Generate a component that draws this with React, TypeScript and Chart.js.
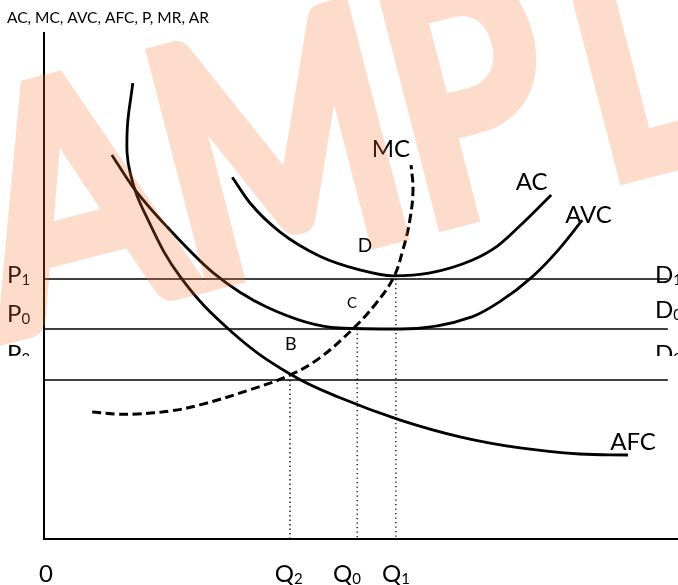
import { useEffect, useRef } from 'react';
import { Chart, registerables } from 'chart.js';
Chart.register(...registerables);

// ---- data (x: quantity units 0..100, y: cost/price units 0..100) ----
const yTitle = 'AC, MC, AVC, AFC, P, MR, AR';

const afcX = [14.0, 13.1, 13.6, 16.2, 21.5, 29.8, 38.8, 46.7, 56.2, 65.6, 75.1, 84.5, 92.1];
const afcY = [90.1, 80.2, 72.3, 63.6, 51.8, 40.7, 32.6, 27.9, 23.5, 20.2, 18.0, 16.8, 16.6];

const avcX = [10.7, 14.0, 19.4, 26.7, 35.2, 46.5, 56.2, 67.5, 71.9, 77.0, 81.1, 84.9];
const avcY = [75.9, 69.6, 61.7, 52.6, 45.8, 41.7, 41.5, 43.9, 46.9, 51.8, 57.1, 63.0];

const acX = [29.7, 32.5, 37.2, 43.5, 49.8, 55.1, 60.9, 67.5, 71.5, 74.9, 80.0];
const acY = [71.5, 66.4, 60.7, 55.9, 53.2, 52.0, 52.6, 55.1, 57.9, 61.7, 68.0];

const mcX = [7.6, 11.2, 14.7, 19.9, 24.6, 32.5, 38.8, 43.5, 48.7, 52.2, 55.1, 56.6, 57.7, 58.2, 57.9];
const mcY = [25.1, 24.7, 24.7, 25.3, 26.5, 29.5, 32.4, 35.8, 41.5, 46.3, 51.6, 57.1, 63.0, 69.0, 73.9];

// price levels P1, P0, P2 and quantities Q1, Q0, Q2
const priceSubs = ['1', '0', '2'];
const prices = [51.4, 41.5, 31.4];
const priceLabelY = [50.6, 42.9, 35.0];
const demandLabelY = [50.6, 43.7, 35.0];
const lineEndX = 98.4;

const qtySubs = ['1', '0', '2'];
const qtys = [55.5, 49.4, 38.8];
const qtyLabelX = [53.3, 45.6, 36.4];
const qtyLabelY = -8.5;

const curveLabels = ['MC', 'AC', 'AVC', 'AFC'];
const curveLabelX = [51.7, 74.4, 82.2, 89.3];
const curveLabelY = [75.5, 69.0, 62.5, 17.6];

const pointLabels = ['D', 'C', 'B'];
const pointLabelX = [49.5, 47.8, 38.0];
const pointLabelY = [56.7, 45.7, 37.4];
const pointLabelSize = [19, 15, 18];

// watermark letters, ink-left offsets along the tilted baseline (A: centre), widths
const wmLetters = ['A', 'M', 'P', 'L'];
const wmInkLeft = [-343, -239, 0, 187];
const wmScale = [0.9, 0.8, 0.8, 0.8];
const wmLead = 'S';
const wmTail = 'E';

const FONT = 'Lato, "Open Sans", sans-serif';

const zip = (xs: number[], ys: number[]) => xs.map((x, i) => ({ x, y: ys[i] }));

function drawSub(ctx: CanvasRenderingContext2D, main: string, sub: string, x: number, y: number, size: number, subSize: number) {
  ctx.font = `${size}px ${FONT}`;
  ctx.fillText(main, x, y);
  const w = ctx.measureText(main).width;
  ctx.font = `${subSize}px ${FONT}`;
  ctx.fillText(sub, x + w, y + 2);
}

function drawWatermark(ctx: CanvasRenderingContext2D, w: number, h: number) {
  const off = document.createElement('canvas');
  off.width = w;
  off.height = h;
  const o = off.getContext('2d')!;
  const lw = 22;
  o.translate(436, 233);
  o.rotate((-14.5 * Math.PI) / 180);
  o.translate(0, -lw / 2);
  o.font = `320px ${FONT}`;
  o.fillStyle = 'rgb(245,115,55)';
  o.strokeStyle = 'rgb(245,115,55)';
  o.lineWidth = lw;
  o.lineJoin = 'miter';
  o.textBaseline = 'alphabetic';
  const put = (ch: string, u: number, kx: number) => {
    o.save();
    o.translate(u, 0);
    o.scale(kx, 1);
    o.fillText(ch, 0, 0);
    o.strokeText(ch, 0, 0);
    o.restore();
  };
  const origins: number[] = wmLetters.map((ch, i) => {
    const m = o.measureText(ch);
    const kx = wmScale[i];
    if (i === 0) return wmInkLeft[i] - (kx * m.width) / 2;
    return wmInkLeft[i] + (lw * kx) / 2 + m.actualBoundingBoxLeft * kx;
  });
  wmLetters.forEach((ch, i) => put(ch, origins[i], wmScale[i]));
  put(wmLead, origins[0] - o.measureText(wmLead).width * 0.8, 0.8);
  put(wmTail, origins[3] + o.measureText('L').width * 0.8, 0.8);
  ctx.save();
  ctx.globalAlpha = 0.25;
  ctx.drawImage(off, 0, 0);
  ctx.restore();
}

const annot = {
  id: 'annot',
  afterDraw(chart: any) {
    const { ctx, scales } = chart;
    const xs = scales.x;
    const ys = scales.y;
    const px = (v: number) => xs.getPixelForValue(v);
    const py = (v: number) => ys.getPixelForValue(v);
    ctx.save();
    ctx.fillStyle = '#000';
    ctx.textBaseline = 'alphabetic';
    ctx.textAlign = 'left';

    ctx.font = `15.5px ${FONT}`;
    ctx.fillText(yTitle, 7, 23);

    curveLabels.forEach((t, i) => {
      ctx.font = `24px ${FONT}`;
      ctx.fillText(t, px(curveLabelX[i]), py(curveLabelY[i]));
    });
    pointLabels.forEach((t, i) => {
      ctx.font = `${pointLabelSize[i]}px ${FONT}`;
      ctx.fillText(t, px(pointLabelX[i]), py(pointLabelY[i]));
    });

    priceSubs.forEach((s, i) => {
      ctx.save();
      if (i === 2) {
        ctx.beginPath();
        ctx.rect(0, 0, chart.width, py(priceLabelY[i]) - 6);
        ctx.clip();
      }
      drawSub(ctx, 'P', s, 7, py(priceLabelY[i]), 24, 15);
      drawSub(ctx, 'D', s, 655, py(demandLabelY[i]), 24, 15);
      ctx.restore();
    });

    qtySubs.forEach((s, i) => {
      drawSub(ctx, 'Q', s, px(qtyLabelX[i]), py(qtyLabelY), 24, 15);
    });
    ctx.font = `24px ${FONT}`;
    ctx.fillText('0', px(0) - 5, py(qtyLabelY));
    ctx.restore();

    drawWatermark(ctx, chart.width, chart.height);
  },
};

export default function App() {
  const ref = useRef<HTMLCanvasElement>(null);
  useEffect(() => {
    const curve = (data: any[], extra: any = {}) => ({
      data,
      showLine: true,
      borderColor: '#000',
      borderWidth: 2.8,
      pointRadius: 0,
      tension: 0.4,
      fill: false,
      ...extra,
    });
    const datasets: any[] = [
      curve(zip(afcX, afcY)),
      curve(zip(avcX, avcY), { cubicInterpolationMode: 'monotone' }),
      curve(zip(acX, acY), { cubicInterpolationMode: 'monotone' }),
      curve(zip(mcX, mcY), { borderDash: [9, 4.5], borderWidth: 3 }),
      ...prices.map((p) =>
        curve([{ x: 0, y: p }, { x: lineEndX, y: p }], { borderWidth: 1.5, tension: 0 })
      ),
      ...qtys.map((q, i) =>
        curve([{ x: q, y: prices[i] }, { x: q, y: 0 }], { borderWidth: 1.3, tension: 0, borderDash: [1.3, 3.2] })
      ),
    ];
    const chart = new Chart(ref.current!, {
      type: 'scatter',
      data: { datasets },
      options: {
        animation: false,
        responsive: false,
        devicePixelRatio: 1,
        layout: { padding: { left: 44, top: 33, right: 0, bottom: 46 } },
        plugins: { legend: { display: false }, tooltip: { enabled: false } },
        scales: {
          x: {
            type: 'linear',
            min: 0,
            max: 100,
            grid: { display: false, drawTicks: false },
            ticks: { display: false },
            border: { display: true, color: '#000', width: 2 },
            afterFit: (s: any) => { s.height = 0; },
          },
          y: {
            type: 'linear',
            min: 0,
            max: 100,
            grid: { display: false, drawTicks: false },
            ticks: { display: false },
            border: { display: true, color: '#000', width: 2 },
            afterFit: (s: any) => { s.width = 0; },
          },
        },
      } as any,
      plugins: [annot],
    });
    return () => chart.destroy();
  }, []);
  return (
    <div style={{ position: 'fixed', left: 0, top: 0, width: 678, height: 585, background: '#fff' }}>
      <canvas ref={ref} width={678} height={585} style={{ display: 'block', width: 678, height: 585 }} />
    </div>
  );
}
